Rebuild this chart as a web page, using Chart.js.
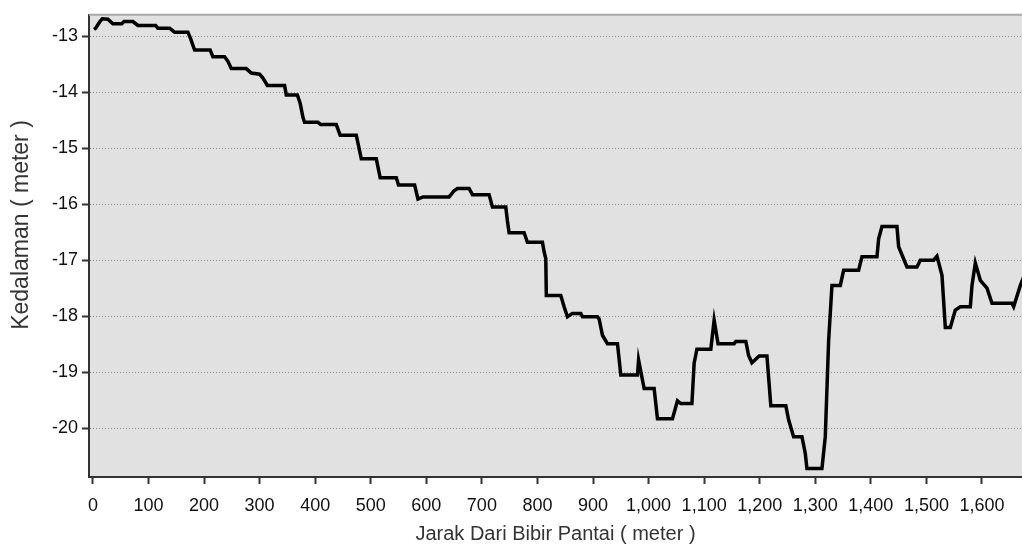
<!DOCTYPE html>
<html>
<head>
<meta charset="utf-8">
<script src="https://cdn.jsdelivr.net/npm/chart.js@4/dist/chart.umd.min.js"></script>
<style>
html,body{margin:0;padding:0;background:#fff;}
#wrap{width:1022px;height:549px;}
</style>
</head>
<body>
<div id="wrap"><canvas id="c" width="1022" height="549"></canvas></div>
<script>
// Distance from shoreline (m)
const distances = [2,5,12,17,27,36,52,56,72,81,113,117,138,147,171,176,183,211,216,237,243,249,276,285,300,306,314,345,348,368,373,378,381,405,410,438,445,474,483,510,517,546,550,579,585,594,641,650,656,677,683,713,719,743,746,749,776,782,809,812,815,816,842,848,854,863,878,881,908,911,917,926,944,950,980,982,992,1010,1016,1043,1052,1058,1078,1082,1087,1112,1118,1125,1154,1157,1175,1180,1186,1199,1213,1220,1247,1252,1261,1276,1282,1285,1312,1318,1324,1330,1345,1351,1378,1384,1411,1414,1420,1447,1450,1465,1483,1489,1513,1519,1528,1534,1543,1552,1561,1579,1582,1588,1597,1609,1618,1654,1657,1669,1675];
// Depth (m)
const depths = [-12.88,-12.86,-12.75,-12.69,-12.70,-12.78,-12.78,-12.74,-12.74,-12.81,-12.81,-12.86,-12.86,-12.93,-12.93,-13.05,-13.25,-13.25,-13.37,-13.37,-13.45,-13.58,-13.58,-13.66,-13.68,-13.75,-13.88,-13.88,-14.05,-14.05,-14.2,-14.45,-14.54,-14.54,-14.58,-14.58,-14.77,-14.77,-15.19,-15.19,-15.53,-15.53,-15.66,-15.66,-15.91,-15.87,-15.87,-15.76,-15.72,-15.72,-15.83,-15.83,-16.05,-16.05,-16.3,-16.51,-16.51,-16.68,-16.68,-16.85,-16.97,-17.63,-17.63,-17.83,-18.01,-17.95,-17.95,-18.01,-18.01,-18.05,-18.34,-18.49,-18.49,-19.05,-19.05,-18.78,-19.29,-19.29,-19.83,-19.83,-19.51,-19.56,-19.56,-18.84,-18.59,-18.59,-18.07,-18.49,-18.49,-18.45,-18.45,-18.7,-18.83,-18.71,-18.71,-19.60,-19.60,-19.85,-20.15,-20.15,-20.45,-20.72,-20.72,-20.15,-18.44,-17.45,-17.45,-17.18,-17.18,-16.94,-16.94,-16.62,-16.40,-16.40,-16.76,-17.12,-17.12,-17.0,-17.0,-16.93,-17.27,-18.2,-18.2,-17.89,-17.83,-17.83,-17.45,-17.05,-17.36,-17.5,-17.77,-17.77,-17.83,-17.45,-17.3];
const xTickStep = 100;
const yTicks = [-13,-14,-15,-16,-17,-18,-19,-20];
const xTitle = 'Jarak Dari Bibir Pantai ( meter )';
const yTitle = 'Kedalaman ( meter )';

const points = distances.map((d,i)=>({x:d,y:depths[i]}));

const bgPlugin = {
  id:'bg',
  beforeDraw(chart){
    const {ctx, chartArea:a} = chart;
    ctx.save();
    ctx.fillStyle = '#e1e1e1';
    ctx.fillRect(a.left, a.top, a.right-a.left, a.bottom-a.top);
    ctx.restore();
  },
  afterDatasetsDraw(chart){
    const {ctx, chartArea:a} = chart;
    ctx.save();
    ctx.strokeStyle = '#a8a8a8';
    ctx.lineWidth = 2;
    ctx.beginPath();
    ctx.moveTo(a.left, a.top);
    ctx.lineTo(a.right, a.top);
    ctx.stroke();
    ctx.restore();
  },
  afterDraw(chart){
    // y-axis title, placed as in the reference
    const {ctx} = chart;
    ctx.save();
    ctx.translate(28, 225);
    ctx.rotate(-Math.PI/2);
    ctx.fillStyle = '#333';
    ctx.font = '23px "Liberation Sans"';
    ctx.textAlign = 'center';
    ctx.textBaseline = 'alphabetic';
    ctx.fillText(yTitle, 0, 0);
    ctx.restore();
  }
};

new Chart(document.getElementById('c'), {
  type:'line',
  data:{datasets:[{data:points, borderColor:'#000', borderWidth:3.5, pointRadius:0, tension:0, fill:false, borderJoinStyle:'miter'}]},
  options:{
    responsive:false, animation:false,
    layout:{padding:{top:14,left:0,right:0,bottom:0}},
    plugins:{legend:{display:false}, tooltip:{enabled:false}},
    scales:{
      x:{
        type:'linear', min:-7, max:1672,
        afterFit(s){ s.height = 72; },
        ticks:{stepSize:xTickStep, includeBounds:false, autoSkip:false, maxRotation:0, color:'#111', padding:11,
          font:{family:'Liberation Sans', size:18},
          callback:(v)=>v.toLocaleString('en-US')},
        grid:{drawOnChartArea:false, drawTicks:true, tickLength:7, tickColor:'#333', tickWidth:2},
        border:{display:true, color:'#333', width:2},
        title:{display:true, text:xTitle, color:'#333', font:{family:'Liberation Sans', size:20}, padding:{top:0,bottom:3}}
      },
      y:{
        type:'linear', min:-20.87, max:-12.62,
        afterFit(s){ s.width = 89; },
        afterBuildTicks(s){ s.ticks = yTicks.map(v=>({value:v})); },
        ticks:{color:'#111', padding:4, font:{family:'Liberation Sans', size:18}},
        grid:{color:'#8a8a8a', lineWidth:1, drawTicks:true, tickLength:7, tickColor:'#333', tickWidth:2},
        border:{display:true, color:'#333', width:2, dash:[1,2]},
        title:{display:false}
      }
    }
  },
  plugins:[bgPlugin]
});
</script>
</body>
</html>
